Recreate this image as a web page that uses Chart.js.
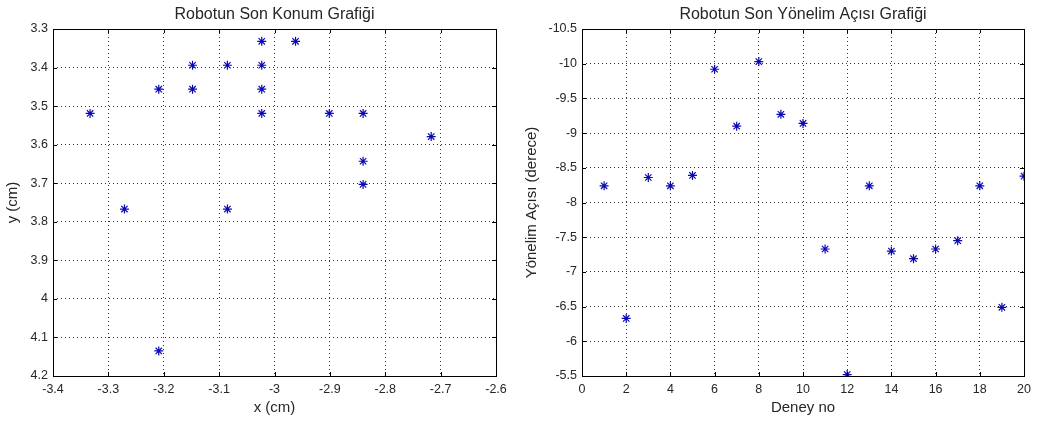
<!DOCTYPE html>
<html>
<head>
<meta charset="utf-8">
<script src="https://cdn.jsdelivr.net/npm/chart.js@4"></script>
<style>
  body { margin: 0; background: #fff; }
  #wrap { position: relative; width: 1037px; height: 423px; }
  canvas { position: absolute; top: 0; }
</style>
</head>
<body>
<div id="wrap">
  <canvas id="konum" width="518" height="423" style="left:0"></canvas>
  <canvas id="yonelim" width="519" height="423" style="left:518px"></canvas>
</div>
<script>
// Final position of the robot (x, y in cm)
const posX = [-3.333, -3.209, -3.148, -3.148, -3.085, -3.023, -3.023, -3.023, -3.023,
  -2.962, -2.901, -2.840, -2.840, -2.840, -2.717, -3.271, -3.085, -3.209];
const posY = [3.519, 3.456, 3.394, 3.456, 3.394, 3.332, 3.394, 3.456, 3.519,
  3.332, 3.519, 3.519, 3.643, 3.703, 3.579, 3.767, 3.767, 4.135];

// Final heading angle per trial
const trials = [1, 2, 3, 4, 5, 6, 7, 8, 9, 10, 11, 12, 13, 14, 15, 16, 17, 18, 19, 20];
const angles = [-8.24, -6.33, -8.36, -8.24, -8.39, -9.92, -9.10, -10.03, -9.27, -9.14,
  -7.33, -5.52, -8.24, -7.30, -7.19, -7.33, -7.45, -8.24, -6.49, -8.38];

const FONT = "'Liberation Sans', Arial, sans-serif";
const TXT = "#262626";
const MARK = "#0a0ab4";

const fmt = v => String(+(+v).toFixed(2));

// box around the plot area, short inward ticks on all four sides,
// and the title centred over the plot area
const matlabBox = {
  id: "matlabBox",
  afterDraw(chart, args, opts) {
    const { ctx, chartArea: a, scales } = chart;
    ctx.save();
    ctx.strokeStyle = "#000";
    ctx.lineWidth = 1;
    ctx.setLineDash([]);
    ctx.beginPath();
    const L = 4;
    scales.x.ticks.forEach((t, i) => {
      const px = Math.round(scales.x.getPixelForTick(i)) + 0.5;
      ctx.moveTo(px, a.bottom); ctx.lineTo(px, a.bottom - L);
      ctx.moveTo(px, a.top); ctx.lineTo(px, a.top + L);
    });
    scales.y.ticks.forEach((t, i) => {
      const py = Math.round(scales.y.getPixelForTick(i)) + 0.5;
      ctx.moveTo(a.left, py); ctx.lineTo(a.left + L, py);
      ctx.moveTo(a.right, py); ctx.lineTo(a.right - L, py);
    });
    ctx.stroke();
    ctx.strokeRect(Math.round(a.left) + 0.5, Math.round(a.top) + 0.5,
      Math.round(a.right - a.left), Math.round(a.bottom - a.top));

    ctx.fillStyle = TXT;
    ctx.font = "16px " + FONT;
    ctx.textAlign = "center";
    ctx.textBaseline = "middle";
    ctx.fillText(opts.text, (a.left + a.right) / 2, 15);
    ctx.restore();
  }
};

function scatterConfig(points, opts) {
  return {
    type: "scatter",
    data: {
      datasets: [{
        data: points,
        pointStyle: "star",
        pointRadius: 4.5,
        pointHoverRadius: 4.5,
        borderColor: MARK,
        backgroundColor: MARK,
        pointBorderWidth: 1.2,
      }],
    },
    options: {
      responsive: false,
      animation: false,
      layout: { padding: { left: 0, top: 29, bottom: 0, right: opts.padRight } },
      plugins: {
        legend: { display: false },
        tooltip: { enabled: false },
        title: { display: false },
        matlabBox: { text: opts.title },
      },
      scales: {
        x: {
          type: "linear",
          min: opts.xMin,
          max: opts.xMax,
          afterFit: s => { s.height = 47; },
          border: { display: false, dash: [1, 3] },
          grid: { color: "rgba(0,0,0,0.8)", drawTicks: false },
          ticks: {
            stepSize: opts.xStep,
            autoSkip: false,
            maxRotation: 0,
            padding: 6,
            color: TXT,
            font: { family: FONT, size: 12.5 },
            callback: fmt,
          },
          title: {
            display: true,
            text: opts.xTitle,
            color: TXT,
            font: { family: FONT, size: 15 },
            padding: { top: 0, bottom: 6 },
          },
        },
        y: {
          type: "linear",
          reverse: true,
          min: opts.yMin,
          max: opts.yMax,
          afterFit: s => { s.width = opts.yWidth; },
          border: { display: false, dash: [1, 3] },
          grid: { color: "rgba(0,0,0,0.8)", drawTicks: false },
          ticks: {
            stepSize: opts.yStep,
            autoSkip: false,
            padding: 5,
            color: TXT,
            font: { family: FONT, size: 12.5 },
            callback: fmt,
          },
          title: {
            display: true,
            text: opts.yTitle,
            color: TXT,
            font: { family: FONT, size: 15 },
            padding: { top: opts.yTitlePad, bottom: 0 },
          },
        },
      },
    },
    plugins: [matlabBox],
  };
}

new Chart(document.getElementById("konum"), scatterConfig(
  posX.map((x, i) => ({ x: x, y: posY[i] })),
  {
    title: "Robotun Son Konum Grafiği",
    xTitle: "x (cm)", yTitle: "y (cm)",
    xMin: -3.4, xMax: -2.6, xStep: 0.1,
    yMin: 3.3, yMax: 4.2, yStep: 0.1,
    yWidth: 53, padRight: 22, yTitlePad: 4,
  }
));

new Chart(document.getElementById("yonelim"), scatterConfig(
  trials.map((t, i) => ({ x: t, y: angles[i] })),
  {
    title: "Robotun Son Yönelim Açısı Grafiği",
    xTitle: "Deney no", yTitle: "Yönelim Açısı (derece)",
    xMin: 0, xMax: 20, xStep: 2,
    yMin: -10.5, yMax: -5.5, yStep: 0.5,
    yWidth: 64, padRight: 13, yTitlePad: 5,
  }
));
</script>
</body>
</html>
